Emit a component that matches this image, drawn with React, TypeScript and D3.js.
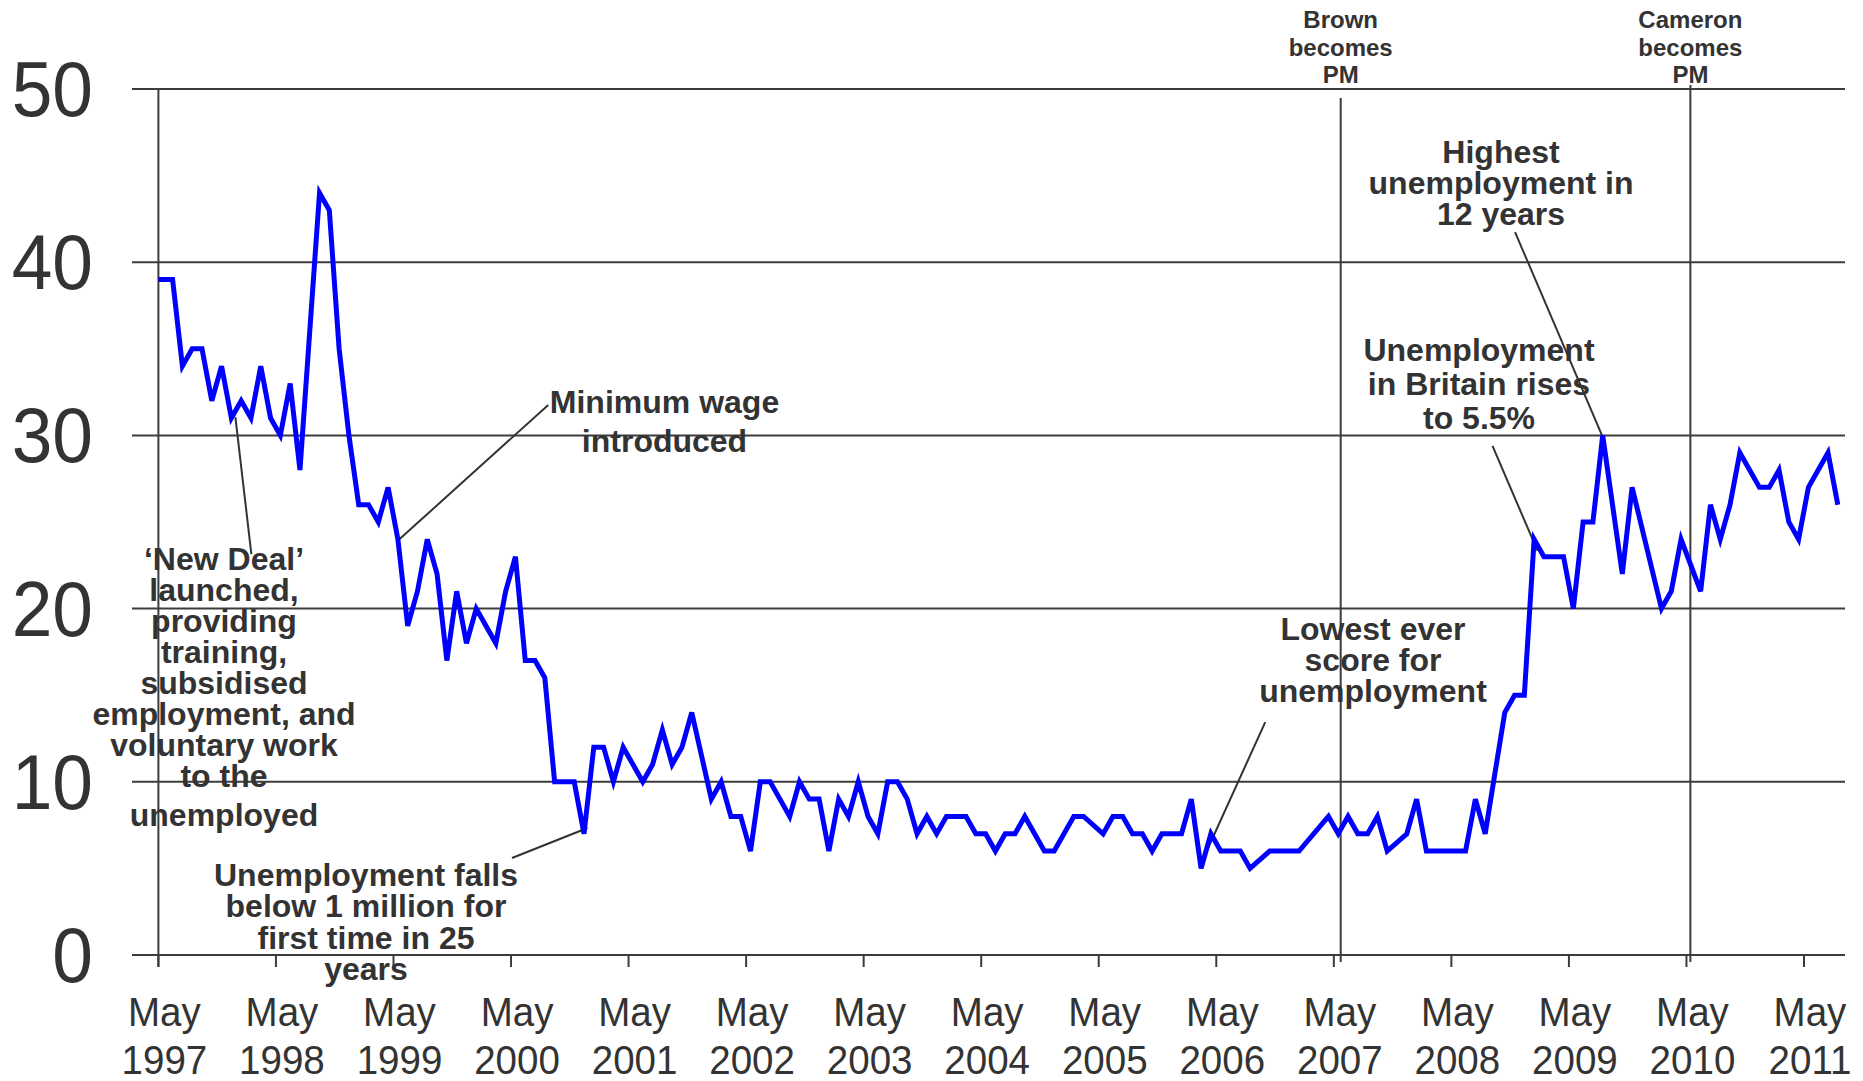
import React from 'react';
import * as d3 from 'd3';

// ---------- DATA ----------
// Month index 0 = May 1997. One reading per month (null = no visible vertex).
const unemployment: (number | null)[] = [
  39, 39, 34, 35, 35, 32, 34, 31, 32, 31,
  34, 31, 30, 33, 28, 36, 44, 43, 35, 30,
  26, 26, 25, 27, 24, 19, 21, 24, 22, 17,
  21, 18, 20, 19, 18, 21, 23, 17, 17, 16,
  10, 10, 10, 7, 12, 12, 10, 12, 11, 10,
  11, 13, 11, 12, 14, null, 9, 10, 8, 8,
  6, 10, 10, 9, 8, 10, 9, 9, 6, 9,
  8, 10, 8, 7, 10, 10, 9, 7, 8, 7,
  8, 8, 8, 7, 7, 6, 7, 7, 8, 7,
  6, 6, 7, 8, 8, null, 7, 8, 8, 7,
  7, 6, 7, 7, 7, 9, 5, 7, 6, 6,
  6, 5, null, 6, 6, 6, 6, null, null, 8,
  7, 8, 7, 7, 8, 6, null, 7, 9, 6,
  6, 6, 6, 6, 9, 7, null, 14, 15, 15,
  24, 23, 23, 23, 20, 25, 25, 30, null, 22,
  27, null, null, 20, 21, 24, null, 21, 26, 24,
  26, 29, 28, 27, 27, 28, 25, 24, 27, 28,
  29, 26,
];

const yTicks = [0, 10, 20, 30, 40, 50];
const tickYears = [1997, 1998, 1999, 2000, 2001, 2002, 2003, 2004, 2005, 2006, 2007, 2008, 2009, 2010, 2011];
const tickMonthLabel = 'May';

// Events (month index from May 1997)
const eventLabels = [['Brown', 'becomes', 'PM'], ['Cameron', 'becomes', 'PM']];
const eventMonths = [120.7, 156.4];

// Annotations: text lines
const noteNewDeal = ['\u2018New Deal\u2019', 'launched,', 'providing', 'training,', 'subsidised', 'employment, and', 'voluntary work', 'to the'];
const noteNewDealLast = ['unemployed'];
const noteMinWage = ['Minimum wage', 'introduced'];
const noteFalls = ['Unemployment falls', 'below 1 million for', 'first time in 25', 'years'];
const noteLowest = ['Lowest ever', 'score for', 'unemployment'];
const noteRises = ['Unemployment', 'in Britain rises', 'to 5.5%'];
const noteHighest = ['Highest', 'unemployment in', '12 years'];

// ---------- CHART ----------
const W = 1863;
const H = 1081;
const TEXT = '#333333';
const GRID = '#3c3c3c';
const FONT = '"Liberation Sans", Arial, Helvetica, sans-serif';
const POLL_OFFSET = 0.45;

export default function App() {
  const x = d3.scaleLinear().domain([0, 168]).range([158.4, 1804]);
  const y = d3.scaleLinear().domain([0, 50]).range([955, 89]);

  const pts = unemployment
    .map((v, i) => ({ m: i === 0 ? 0 : i + POLL_OFFSET, v }))
    .filter((d) => d.v !== null) as { m: number; v: number }[];

  const line = d3
    .line<{ m: number; v: number }>()
    .x((d) => x(d.m))
    .y((d) => y(d.v));

  const gridX0 = 132;
  const gridX1 = 1845;

  // leader lines in data coordinates: [month, value] -> [month, value]
  const leaders: [number, number, number, number][] = [
    [7.86, 31.06, 9.49, 23.15],
    [24.4, 23.9, 39.8, 31.76],
    [36.1, 5.6, 43.8, 7.33],
    [113.0, 13.45, 106.7, 5.6],
    [136.2, 29.39, 140.8, 23.33],
    [138.5, 41.74, 147.4, 29.97],
  ];

  const block = (lines: string[], cx: number, y0: number, lh: number, fs: number, key: string) => (
    <text
      key={key}
      x={cx}
      y={y0}
      textAnchor="middle"
      fontFamily={FONT}
      fontWeight="bold"
      fontSize={fs}
      fill={TEXT}
    >
      {lines.map((t, i) => (
        <tspan key={i} x={cx} y={y0 + i * lh}>
          {t}
        </tspan>
      ))}
    </text>
  );

  return (
    <svg
      width={W}
      height={H}
      viewBox={`0 0 ${W} ${H}`}
      style={{ position: 'absolute', left: 0, top: 0, display: 'block', background: '#fff' }}
    >
      <rect x={0} y={0} width={W} height={H} fill="#fff" />

      {/* horizontal gridlines */}
      {yTicks.map((t) => (
        <line key={'g' + t} x1={gridX0} x2={gridX1} y1={y(t)} y2={y(t)} stroke={GRID} strokeWidth={2} />
      ))}

      {/* y axis line */}
      <line x1={x(0)} x2={x(0)} y1={y(50)} y2={967} stroke={GRID} strokeWidth={2} />

      {/* x ticks */}
      {tickYears.map((yr, k) => (
        <line key={'t' + yr} x1={x(k * 12)} x2={x(k * 12)} y1={y(0)} y2={967} stroke={GRID} strokeWidth={2} />
      ))}

      {/* y labels */}
      {yTicks.map((t) => (
        <text
          key={'yl' + t}
          transform={`translate(93,${y(t) + 27}) scale(0.95,1)`}
          textAnchor="end"
          fontFamily={FONT}
          fontSize={77}
          fill={TEXT}
        >
          {t}
        </text>
      ))}

      {/* x labels */}
      {tickYears.map((yr, k) => (
        <g key={'xl' + yr} transform={`translate(${x(k * 12) + 6},0)`}>
          <text transform="translate(0,1026) scale(0.94,1)" textAnchor="middle" fontFamily={FONT} fontSize={41} fill={TEXT}>
            {tickMonthLabel}
          </text>
          <text transform="translate(0,1074) scale(0.94,1)" textAnchor="middle" fontFamily={FONT} fontSize={41} fill={TEXT}>
            {yr}
          </text>
        </g>
      ))}

      {/* event lines */}
      {eventMonths.map((m, k) => (
        <line key={'ev' + k} x1={x(m)} x2={x(m)} y1={k === 0 ? 98 : 85} y2={962} stroke={GRID} strokeWidth={2} />
      ))}
      {eventLabels.map((lines, k) => block(lines, x(eventMonths[k]), 28, 27.5, 24, 'evl' + k))}

      {/* leader lines */}
      {leaders.map((l, k) => (
        <line key={'ld' + k} x1={x(l[0])} y1={y(l[1])} x2={x(l[2])} y2={y(l[3])} stroke={TEXT} strokeWidth={2} />
      ))}

      {/* data line */}
      <path d={line(pts) || ''} fill="none" stroke="#0000ff" strokeWidth={5} strokeLinejoin="miter" />

      {/* annotations */}
      {block(noteNewDeal, 224, 570, 31, 32, 'nd')}
      {block(noteNewDealLast, 224, 826, 31, 32, 'nd2')}
      {block(noteMinWage, 664.5, 413, 39, 32, 'mw')}
      {block(noteFalls, 366, 886, 31.3, 32, 'fa')}
      {block(noteLowest, 1373, 640, 31, 32, 'lo')}
      {block(noteRises, 1479, 361, 34, 32, 'ri')}
      {block(noteHighest, 1501, 163, 31, 32, 'hi')}
    </svg>
  );
}
